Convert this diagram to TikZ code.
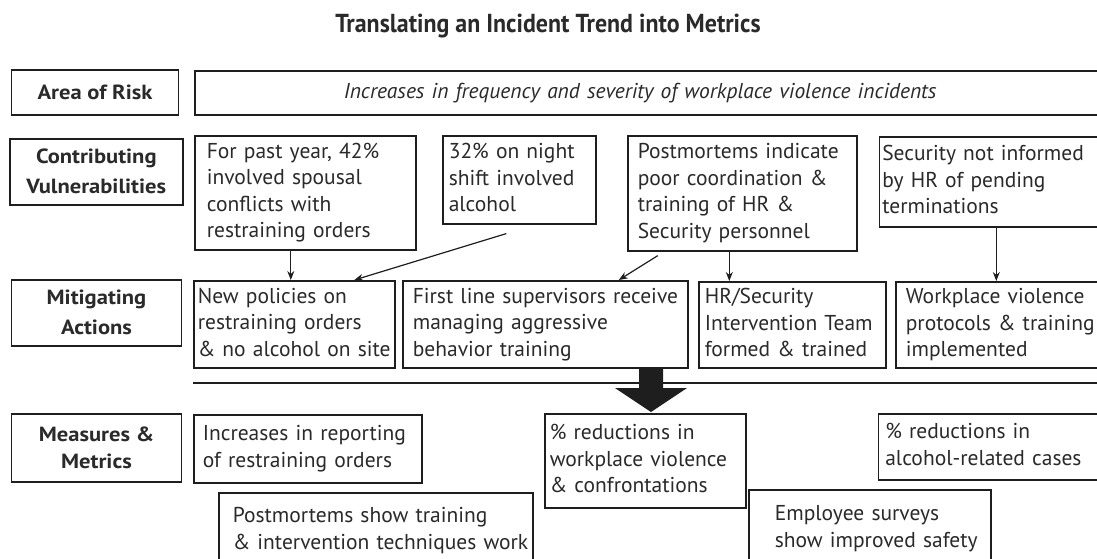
\documentclass[tikz,border=0pt]{standalone}
\usepackage{fontspec}
\setmainfont{PT Sans}
\newfontfamily\titlefont{PT Sans}[FakeStretch=0.92]
\newfontfamily\labfont{PT Sans}[FakeStretch=1.1]
\usetikzlibrary{arrows.meta}
\definecolor{ink}{HTML}{1E1E1E}
\definecolor{txt}{HTML}{2A2A2A}
\newcommand\mkbox[8][]{%
  \pgfmathsetmacro\tw{#5-2*#7}%
  \node[box, anchor=north west, minimum width=#5pt, minimum height=#6pt,
        inner xsep=#7pt, text width=\tw pt, #1] (#2) at (#3,#4)
        {\begin{tabular}{@{}l@{}}#8\end{tabular}};}
\begin{document}
\begin{tikzpicture}[x=1pt,y=-1pt,
  box/.style={draw=ink, line width=1.6pt, rectangle, align=left, text=txt,
              font=\fontsize{21.5}{26.5}\selectfont, inner ysep=1pt},
  lab/.style={draw=ink, line width=1.6pt, rectangle, align=center, text=txt,
              anchor=north west, inner sep=1pt,
              font=\labfont\bfseries\fontsize{20.5}{30}\selectfont},
  arr/.style={draw=ink, line width=1.2pt, -{Stealth[length=9pt,width=7pt]}}]
\path[use as bounding box, fill=white] (0,0) rectangle (1097,558);
\clip (0,0) rectangle (1097,558);
% title
\node[font=\titlefont\bfseries\fontsize{26}{30}\selectfont, text=txt, anchor=base] (title) at (548,32)
  {Translating an Incident Trend into Metrics};
% row labels
\node[lab, minimum width=167pt, minimum height=45pt] (rl) at (10.7,69) {Area of Risk};
\node[lab, minimum width=173pt, minimum height=66pt] (vl) at (9,138) {Contributing\\Vulnerabilities};
\node[lab, minimum width=170pt, minimum height=66pt] (ml) at (10.7,279) {Mitigating\\Actions};
\node[lab, minimum width=170pt, minimum height=68pt, font=\labfont\bfseries\fontsize{20.5}{27}\selectfont] (mml) at (10.7,413) {Measures \&\\Metrics};
% area of risk
\mkbox[font=\itshape\fontsize{21.5}{26.5}\selectfont]{rb}{194}{70}{916}{44}{149}{Increases in frequency and severity of workplace violence incidents}
% vulnerabilities
\mkbox{v1}{194}{135}{221}{114}{12}{For past year, 42\%\\involved spousal\\conflicts with\\restraining orders}
\mkbox{v2}{442}{135}{153}{88}{6}{32\% on night\\shift involved\\alcohol}
\mkbox{v3}{627}{135}{229}{115}{10}{Postmortems indicate\\poor coordination \&\\training of HR \&\\Security personnel}
\mkbox{v4}{878.5}{136}{232}{90}{3}{Security not informed\\by HR of pending\\terminations}
% mitigating
\mkbox{m1}{193}{280}{201}{87}{4}{New policies on\\restraining orders\\\& no alcohol on site}
\mkbox{m2}{402}{280}{285}{87}{10}{First line supervisors receive\\managing aggressive\\behavior training}
\mkbox{m3}{698}{281}{187}{86}{6}{HR/Security\\Intervention Team\\formed \& trained}
\mkbox{m4}{895}{281}{215}{86}{10}{Workplace violence\\protocols \& training\\implemented}
% measures
\mkbox{me1}{193}{414}{228}{68}{9}{Increases in reporting\\of restraining orders}
\mkbox{me2}{218}{492}{314}{76}{14}{Postmortems show training\\\& intervention techniques work}
\mkbox{me3}{544}{413}{201}{94}{5}{\% reductions in\\workplace violence\\\& confrontations}
\mkbox{me4}{877.5}{413}{233}{66}{7}{\% reductions in\\alcohol-related cases}
\mkbox{me5}{748}{489}{242}{78}{26}{Employee surveys\\show improved safety}
% connectors
\draw[arr] ([xshift=-14.5pt]v1.south) -- ([xshift=-14.5pt]v1.south |- m1.north);
\draw[arr] ([xshift=-13pt,yshift=-9pt]v2.south) -- ([xshift=60pt]m1.north);
\draw[arr] ([xshift=-84.5pt,yshift=-4pt]v3.south) -- ([xshift=73.5pt]m2.north);
\draw[arr] ([xshift=-13pt]v3.south) -- ([xshift=-13pt]v3.south |- m3.north);
\draw[arr] ([xshift=1pt]v4.south) -- ([xshift=1pt]v4.south |- m4.north);
% divider and big arrow
\coordinate (dl) at (193,383);
\coordinate (dr) at (1100,383);
\draw[ink, line width=1.6pt] (dl) -- (dr);
\fill[ink] (639,367) -- (663,367) -- (663,388) -- (687,388) -- (651,412)
  -- (615,388) -- (639,388) -- cycle;
\end{tikzpicture}
\end{document}
